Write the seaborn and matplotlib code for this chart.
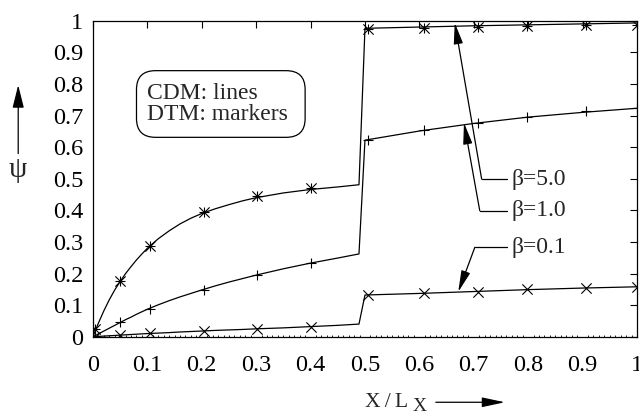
import matplotlib
matplotlib.use("Agg")
import matplotlib.pyplot as plt
import pandas as pd
import seaborn as sns
from matplotlib.patches import FancyBboxPatch, FancyArrowPatch
from matplotlib.ticker import MultipleLocator

# CDM solution (continuous lines)
x_cdm = [0.0, 0.005, 0.01, 0.02, 0.03, 0.04, 0.05, 0.06, 0.07, 0.08, 0.09, 0.1,
         0.12, 0.14, 0.16, 0.18, 0.2, 0.225, 0.25, 0.275, 0.3, 0.35, 0.4, 0.45, 0.489,
         0.5, 0.6, 0.7, 0.8, 0.9, 1.0]
psi_cdm_b50 = [0.0, 0.022, 0.043, 0.082, 0.117, 0.148, 0.175, 0.200, 0.222, 0.243, 0.262, 0.280,
               0.310, 0.335, 0.357, 0.375, 0.390, 0.405, 0.418, 0.430, 0.440, 0.455, 0.466, 0.474, 0.481,
               0.976, 0.980, 0.984, 0.987, 0.990, 0.993]
psi_cdm_b10 = [0.0, 0.0045, 0.009, 0.018, 0.027, 0.036, 0.045, 0.054, 0.062, 0.071, 0.079, 0.087,
               0.101, 0.114, 0.126, 0.137, 0.148, 0.161, 0.173, 0.184, 0.195, 0.215, 0.233, 0.249, 0.262,
               0.622, 0.651, 0.675, 0.695, 0.710, 0.723]
psi_cdm_b01 = [0.0, 0.0005, 0.001, 0.002, 0.003, 0.004, 0.005, 0.006, 0.007, 0.008, 0.009, 0.010,
               0.0115, 0.013, 0.015, 0.0165, 0.018, 0.020, 0.0215, 0.023, 0.025, 0.028, 0.032, 0.036, 0.040,
               0.132, 0.137, 0.143, 0.149, 0.154, 0.158]

# DTM solution (markers)
x_dtm = [0.003, 0.05, 0.104, 0.204, 0.301, 0.40, 0.505, 0.608, 0.708, 0.798, 0.906, 1.0]
psi_dtm_b50 = [0.026, 0.176, 0.288, 0.395, 0.445, 0.470, 0.973, 0.977, 0.980, 0.983, 0.985, 0.987]
psi_dtm_b10 = [0.003, 0.045, 0.088, 0.148, 0.195, 0.234, 0.622, 0.654, 0.677, 0.696, 0.714, 0.723]
psi_dtm_b01 = [0.0, 0.005, 0.011, 0.018, 0.024, 0.032, 0.132, 0.137, 0.142, 0.150, 0.153, 0.158]

beta_labels = ["β=5.0", "β=1.0", "β=0.1"]
x_ticks = [0, 0.1, 0.2, 0.3, 0.4, 0.5, 0.6, 0.7, 0.8, 0.9, 1]
x_ticklabels = ["0", "0.1", "0.2", "0.3", "0.4", "0.5", "0.6", "0.7", "0.8", "0.9", "1"]
y_ticks = [0, 0.1, 0.2, 0.3, 0.4, 0.5, 0.6, 0.7, 0.8, 0.9, 1]
y_ticklabels = ["0", "0.1", "0.2", "0.3", "0.4", "0.5", "0.6", "0.7", "0.8", "0.9", "1"]

cdm = pd.concat([
    pd.DataFrame({"x": x_cdm, "psi": psi_cdm_b50, "beta": beta_labels[0]}),
    pd.DataFrame({"x": x_cdm, "psi": psi_cdm_b10, "beta": beta_labels[1]}),
    pd.DataFrame({"x": x_cdm, "psi": psi_cdm_b01, "beta": beta_labels[2]}),
])
dtm50 = pd.DataFrame({"x": x_dtm, "psi": psi_dtm_b50})
dtm10 = pd.DataFrame({"x": x_dtm, "psi": psi_dtm_b10})
dtm01 = pd.DataFrame({"x": x_dtm, "psi": psi_dtm_b01})

sns.set_theme(style="white")
plt.rcParams["font.family"] = ["Liberation Serif", "DejaVu Serif"]

FS = 17
fig = plt.figure(figsize=(6.39, 4.13), dpi=100)
ax = fig.add_axes([0.1455, 0.1847, 0.8513, 0.7651])

sns.lineplot(data=cdm, x="x", y="psi", hue="beta", palette=["black"] * 3,
             legend=False, linewidth=0.9, ax=ax, estimator=None, sort=False)

mk = dict(color="black", s=55, linewidth=0.8, legend=False, ax=ax, zorder=3)
sns.scatterplot(data=dtm50, x="x", y="psi", marker="+", **mk)
sns.scatterplot(data=dtm50, x="x", y="psi", marker="x", **mk)
sns.scatterplot(data=dtm10, x="x", y="psi", marker="+", **mk)
sns.scatterplot(data=dtm01, x="x", y="psi", marker="x", **mk)

ax.set_xlim(0, 1)
ax.set_ylim(0, 1)
ax.set_xlabel("")
ax.set_ylabel("")
ax.set_xticks(x_ticks)
ax.set_xticklabels(x_ticklabels)
ax.set_yticks(y_ticks)
ax.set_yticklabels(y_ticklabels)
ax.xaxis.set_minor_locator(MultipleLocator(0.01))
ax.tick_params(axis="both", which="major", direction="in", length=5, width=0.8,
               color="black", labelsize=17.5, labelcolor="black",
               top=True, right=True)
ax.tick_params(axis="x", which="major", pad=13)
ax.tick_params(axis="y", which="major", pad=7)
ax.tick_params(axis="x", which="minor", direction="in", length=1.8, width=0.6,
               color="black", bottom=True, top=False)
for sp in ax.spines.values():
    sp.set_color("black")
    sp.set_linewidth(0.9)

# method key box
box = FancyBboxPatch((0.080, 0.631), 0.310, 0.211,
                     boxstyle="round,pad=0.0,rounding_size=0.035",
                     transform=ax.transData, fc="white", ec="black", lw=0.9, zorder=4,
                     mutation_aspect=1.7)
ax.add_patch(box)
ax.text(0.0998, 0.738, "CDM: lines\nDTM: markers", fontsize=FS, va="center", ha="left",
        linespacing=1.0, zorder=5)

# curve labels with leader arrows
label_x = 0.770
leaders = [
    # (text, label y, corner x, tip x, tip y)
    (beta_labels[0], 0.499, 0.7145, 0.665, 0.994),
    (beta_labels[1], 0.399, 0.711, 0.682, 0.677),
    (beta_labels[2], 0.283, 0.702, 0.6715, 0.142),
]
for txt, ly, cx, tx, ty in leaders:
    ax.text(label_x, ly, txt, fontsize=FS, va="center", ha="left", zorder=5)
    ax.plot([0.7603, cx], [ly, ly], color="black", lw=0.9, zorder=5)
    ax.annotate("", xy=(tx, ty), xytext=(cx, ly),
                arrowprops=dict(arrowstyle="-|>,head_length=1.3,head_width=0.28",
                                color="black", lw=0.9, shrinkA=0, shrinkB=0,
                                mutation_scale=10),
                zorder=5)

# axis titles with direction arrows
fig.text(0.028, 0.588, "ψ", fontsize=21, ha="center", va="center")
fig.add_artist(FancyArrowPatch((0.0285, 0.628), (0.0285, 0.794),
                               transform=fig.transFigure,
                               arrowstyle="-|>,head_length=1.4,head_width=0.35",
                               mutation_scale=10, color="black", lw=0.9,
                               shrinkA=0, shrinkB=0))
fig.text(0.571, 0.0153, "X\u2009/\u2009L", fontsize=15.5, ha="left", va="baseline")
fig.text(0.645, 0.006, "X", fontsize=14, ha="left", va="baseline")
fig.add_artist(FancyArrowPatch((0.682, 0.026), (0.790, 0.026),
                               transform=fig.transFigure,
                               arrowstyle="-|>,head_length=1.4,head_width=0.3",
                               mutation_scale=10, color="black", lw=0.9,
                               shrinkA=0, shrinkB=0))

fig.savefig("out.png", dpi=100)
